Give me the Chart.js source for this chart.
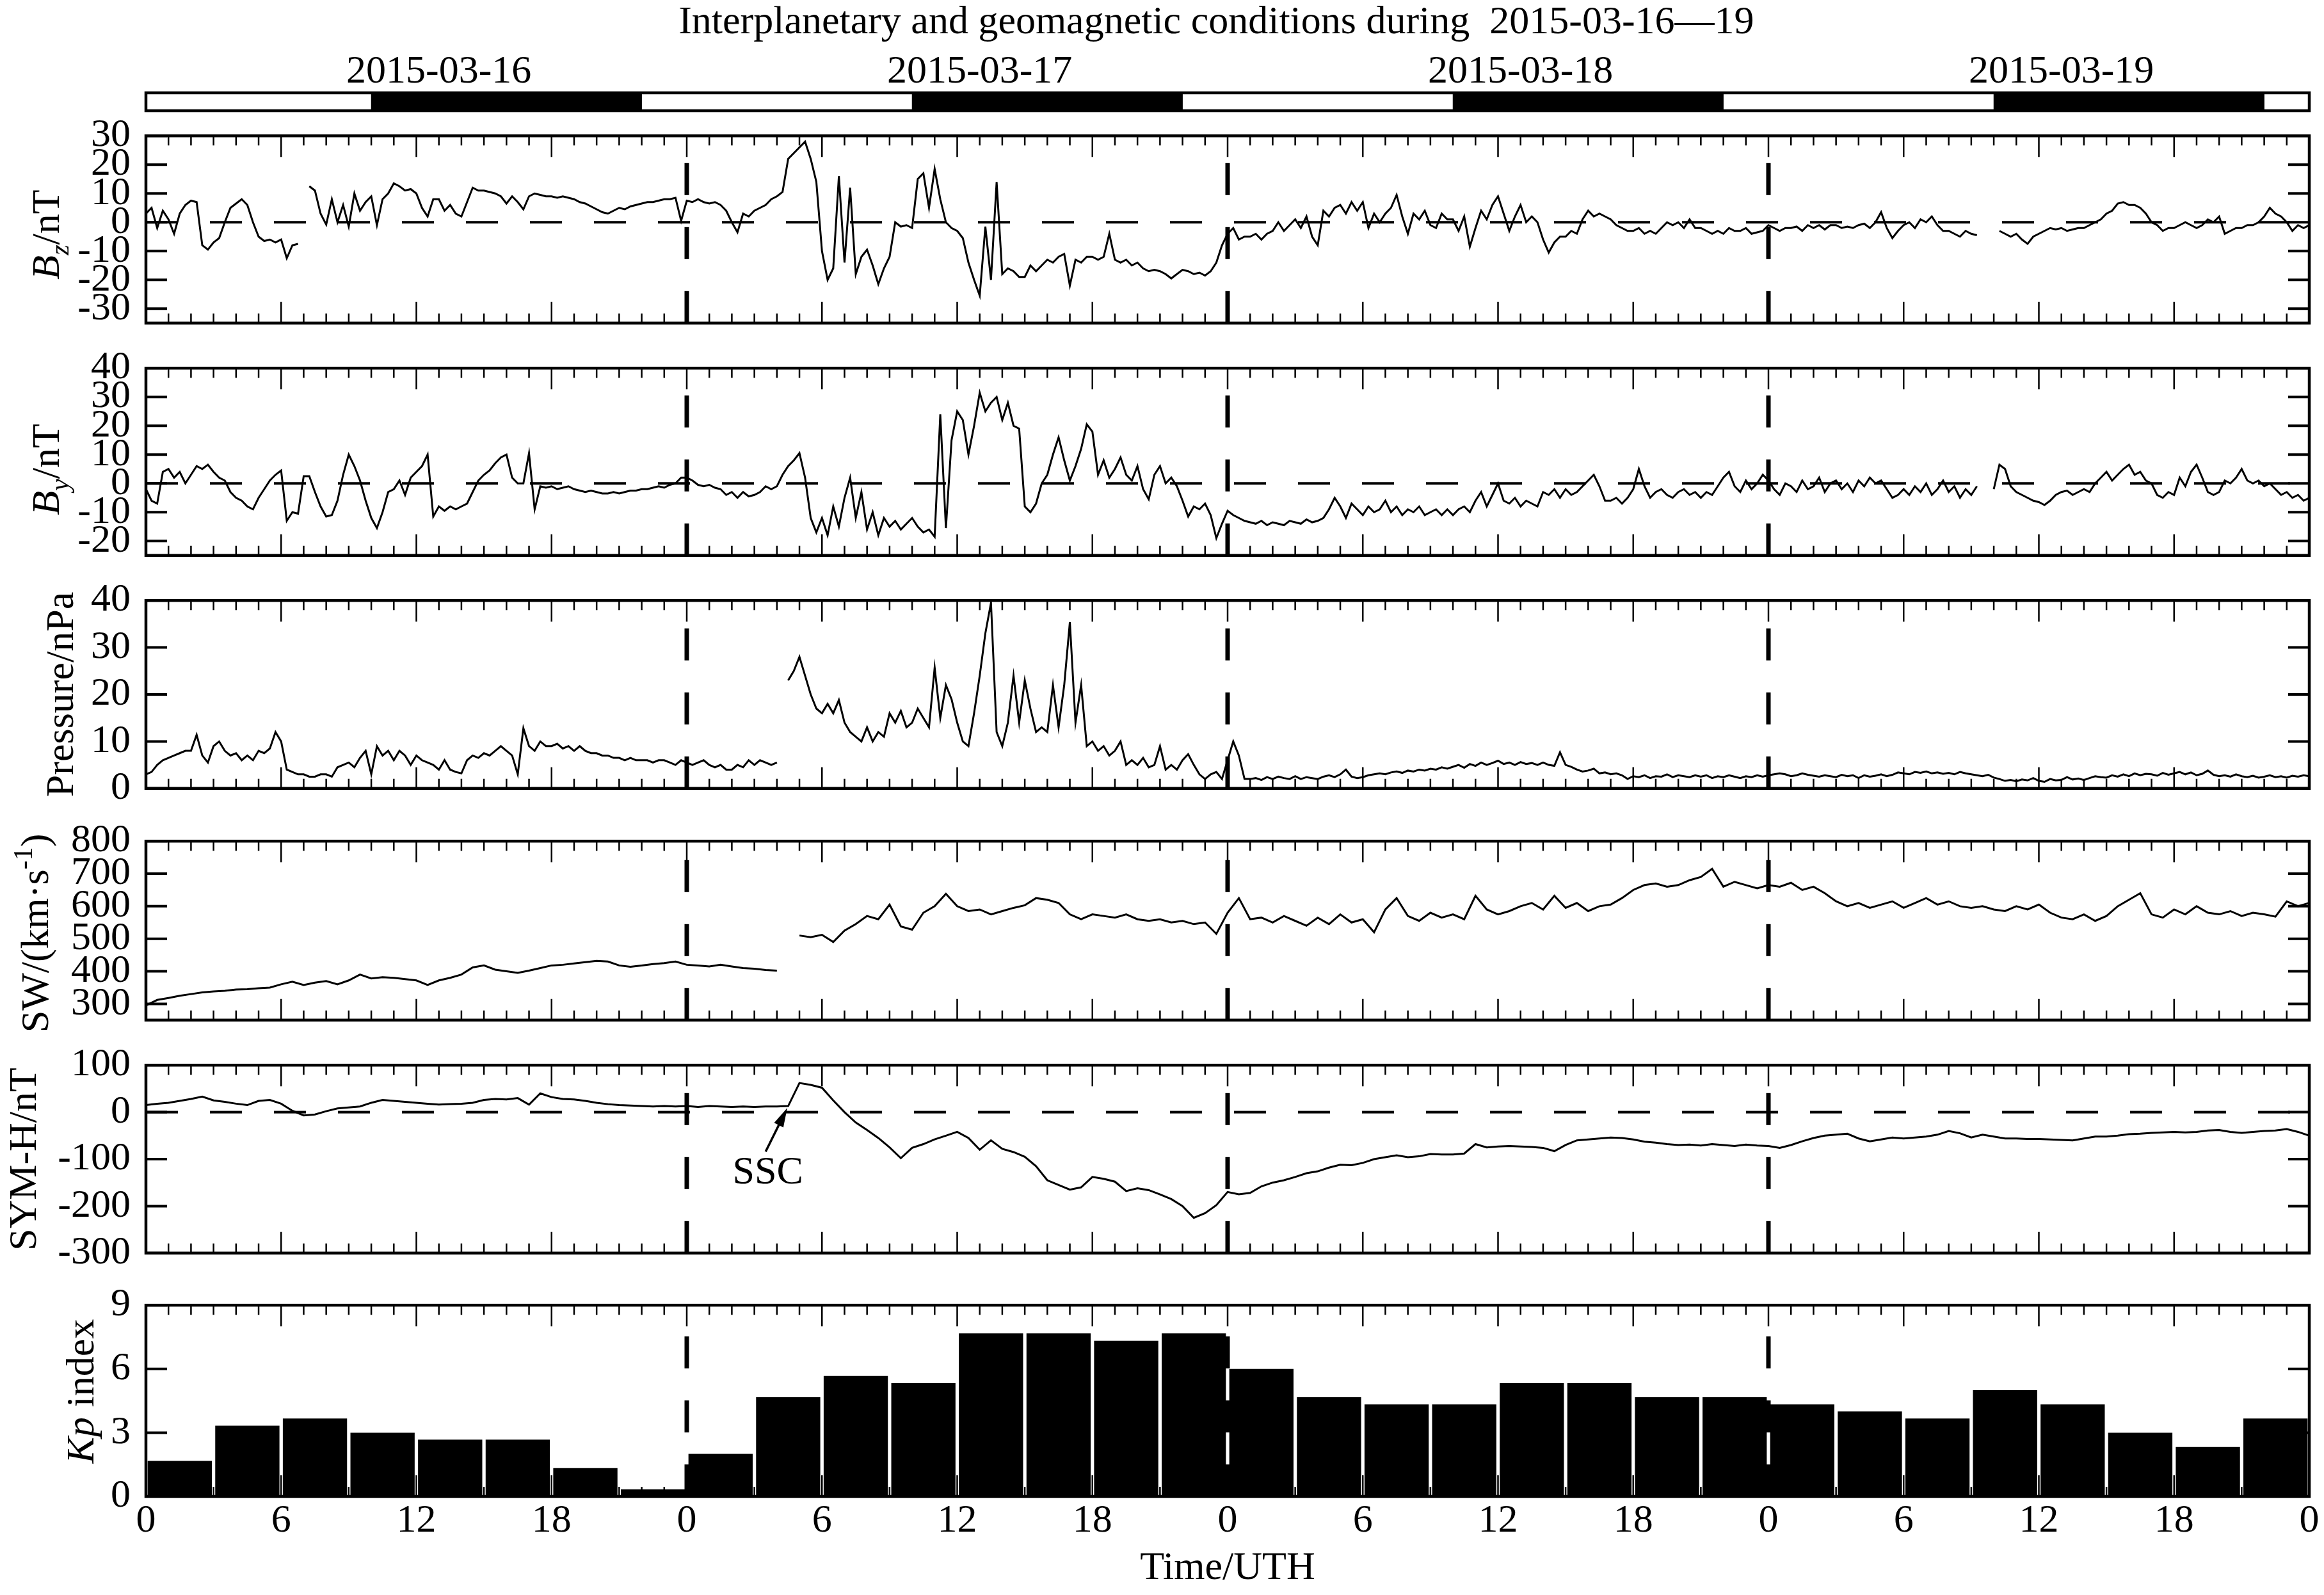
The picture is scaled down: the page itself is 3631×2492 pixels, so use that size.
<!DOCTYPE html>
<html>
<head>
<meta charset="utf-8">
<title>Interplanetary and geomagnetic conditions</title>
<script src="https://cdn.jsdelivr.net/npm/chart.js@4.4.1/dist/chart.umd.min.js"></script>
<style>
  body { margin: 0; background: #fff; }
  #wrap { position: relative; width: 3631px; height: 2492px; background: #fff; overflow: hidden; }
  #wrap canvas { position: absolute; left: 0; }
</style>
</head>
<body>
<div id="wrap"></div>
<script>
// ---- data (hours from 2015-03-16 00 UT) ----
const titleText = 'Interplanetary and geomagnetic conditions during  2015-03-16\u201419';
const dayLabels = ['2015-03-16', '2015-03-17', '2015-03-18', '2015-03-19'];
const dayLabelHours = [13, 37, 61, 85];
const nightStart = [10, 34, 58, 82];
const nightEnd = [22, 46, 70, 94];
const dayLines = [24, 48, 72];

const bzTicks = [30, 20, 10, 0, -10, -20, -30];
const byTicks = [40, 30, 20, 10, 0, -10, -20];
const pTicks = [0, 10, 20, 30, 40];
const swTicks = [300, 400, 500, 600, 700, 800];
const symTicks = [100, 0, -100, -200, -300];
const kpTicks = [0, 3, 6, 9];

// IMF Bz, nT, every 0.25 h
const bz = [
  3, 5, -2, 4, 1, -4, 3, 6, 7.5, 7, -8, -9.5,
  -7, -5.5, 0, 5, 6.5, 8, 6, 0, -5, -6.5, -6, -7,
  -6, -12.5, -8, -7.5, null, 12.5, 11, 3, -0.8, 8, 0, 6,
  -1.5, 10, 4, 7, 9, -1, 8, 10, 13.5, 12.5, 11, 11.5,
  10, 5, 2, 8, 8, 4, 6, 3, 2, 7, 12, 11,
  11, 10.5, 10, 9, 6.5, 9, 7, 4.5, 9, 10, 9.5, 9,
  9, 8.5, 9, 8.5, 8, 7, 6.5, 5.5, 4.5, 3.5, 3, 4,
  5, 4.5, 5.5, 6, 6.5, 7, 7, 7.5, 8, 8, 8.5, 0.5,
  7.5, 7, 8, 7, 6.5, 7, 6, 4, 0, -3.5, 3, 2,
  4, 5, 6, 8, 9, 10.5, 22, 24, 26, 28, 22, 14,
  -10, -20, -16, 16, -14, 12, -18, -12, -9.5, -15, -21.5, -16,
  -12, 0, -1.5, -1, -2, 15, 17, 5, 18.5, 8, 0, -2,
  -3, -5.5, -14, -20, -25.5, -1.5, -20, 14, -18, -16, -17, -19,
  -19, -15, -17, -15, -13, -14, -12, -11, -22, -13, -14, -12,
  -12, -13, -12, -4, -13, -14, -13, -15, -14, -16, -17, -16.5,
  -17, -18, -19.5, -18, -16.5, -17, -18, -17.5, -18.5, -17, -14, -8,
  -4, -2, -6, -5, -5, -4, -6, -4, -3, 0, -3, -1,
  1, -2, 2, -5, -8, 4, 2, 5, 6, 3, 7, 4,
  7, -2, 3, 0, 3, 5, 9.5, 2, -4, 3, 1, 4,
  -1, -2, 3, 1, 1, -3, 2, -8.5, -2, 4, 1, 6,
  9, 3, -3, 2, 6, 0, 2, 0, -6, -10.5, -7, -5,
  -5, -3, -4, 1, 4, 2, 3, 2, 1, -1, -2, -3,
  -3, -2, -4, -3, -4, -2, 0, -1, 0, -2, 1, -2,
  -2, -3, -4, -3, -4, -2, -3, -3, -2, -4, -3.5, -3,
  -1, -2, -3, -2, -2, -1.5, -3, -1, -2, -1, -2.5, -1,
  -1, -2, -1.5, -2, -1, -0.5, -2, 0, 3.5, -2, -5.5, -3,
  -1, 0, -2, 1, 0, 2, -1, -3, -3, -4, -5, -3,
  -4, -4.5, null, null, null, -3, -4, -5, -4, -6, -7.5, -5,
  -4, -3, -2, -2.5, -2, -3, -2.5, -2, -2, -1, 0, 1,
  3, 4, 6.5, 7, 6, 6, 5, 3, 0, -1, -3, -2,
  -2, -1, 0, -1, -2, -1, 1, 0, 2, -4, -3, -2,
  -2, -1, -1, 0, 2, 5, 3, 2, 0, -3, -1, -2,
  -1
];

// IMF By, nT, every 0.25 h
const by = [
  -2, -6, -7, 4, 5, 2, 4, 0, 3, 6, 5, 6.5,
  4, 2, 1, -3, -5, -6, -8, -9, -5, -2, 1, 3,
  4.5, -13, -10, -10.5, 2.5, 2.5, -3, -8, -11.5, -11, -6, 3,
  10, 6, 1, -6, -12, -15.5, -10, -3, -2, 1, -4, 2,
  4, 6, 10, -11.5, -8, -9.5, -8, -9, -8, -7, -3, 1,
  3, 4.5, 7, 9, 10, 2, 0, 0, 10.5, -9, -1, -1.5,
  -1, -2, -1.5, -1, -2, -2.5, -3, -2.5, -3, -3.5, -3.5, -3,
  -3.5, -3, -2.5, -2.5, -2, -2, -1.5, -1, -1.5, -0.5, 0, 2,
  2, 1, -0.5, -1, -0.5, -1.5, -2, -4, -3, -5, -3, -4.5,
  -4, -3, -1, -2, -1, 3, 6, 8, 10.5, 2, -12, -17,
  -12, -18, -8, -15, -5, 2, -12, -3, -16, -10, -18, -12,
  -15, -13, -16, -14, -12, -15, -17, -16, -18.5, 24, -15.5, 15,
  25, 22, 10, 20, 31.5, 25, 28, 30, 22, 28, 20, 19,
  -8, -10, -7, 0, 3, 10, 16, 8, 1, 6, 12, 20.5,
  18, 3, 8, 2, 5, 9, 3, 1, 6, -2, -5.5, 3,
  6, 0, 2, -1, -6, -11.5, -8, -9, -7, -11, -19, -14,
  -9.5, -11, -12, -13, -13.5, -14, -13, -14.5, -13.5, -14, -14.5, -13,
  -13.5, -14, -12.5, -13.5, -13, -12, -9, -5, -8, -12, -7, -9,
  -11, -8, -10, -9, -6, -10, -8, -11, -9, -10, -8, -11,
  -10, -9, -11, -9, -11, -9, -8, -10, -6, -3, -8, -4,
  0, -6, -7, -5, -8, -6, -7, -8, -3, -4, -2, -5,
  -2, -4, -3, -1, 1, 3, -1, -6, -6, -5, -7, -5,
  -2, 5, -1, -5, -3, -2, -4, -5, -3, -2, -4, -3,
  -5, -3, -4, -1, 2, 4, -1, -3, 1, -2, 0, 3,
  1, -2, -4, 0, -1, -3, 1, -2, -1, 2, -3, 0,
  1, -2, 0, -3, 1, -1, 2, 0, 1, -2, -5, -4,
  -2, -4, -1, -3, 0, -4, -2, 1, -3, -1, -5, -2,
  -4, -1, null, null, -2, 6.5, 5, -1, -3, -4, -5, -6,
  -6.5, -7.5, -6, -4, -3, -2.5, -4, -3, -2, -3, 0, 2,
  4, 1, 3, 5, 6.5, 3, 4, 1, 0, -4, -5, -3,
  -4, 2, -1, 4, 6.5, 2, -3, -4, -3, 1, 0, 2,
  5, 1, 0, 1, -1, 0, -2, -4, -3, -5, -4, -6,
  -5
];

// solar wind dynamic pressure, nPa, every 0.25 h
const pdyn = [
  3, 3.5, 5, 6, 6.5, 7, 7.5, 8, 8, 11.4, 7, 5.5,
  9, 10, 8, 7, 7.5, 6, 7, 6, 8, 7.5, 8.5, 12,
  10, 4, 3.5, 3, 3, 2.5, 2.5, 3, 3, 2.5, 4.5, 5,
  5.5, 4.5, 6.5, 8, 3, 9, 7, 8, 6, 8, 7, 5,
  7, 6, 5.5, 5, 4, 6, 4, 3.5, 3.2, 6, 7, 6.5,
  7.5, 7, 8, 9, 8, 7, 3, 12.8, 9, 8, 10, 9,
  9, 9.5, 8.5, 9, 8, 9, 8, 7.5, 7.5, 7, 7, 6.5,
  6.5, 6, 6.5, 6, 6, 6, 5.5, 6, 6, 5.5, 5, 6,
  5.5, 5, 5.5, 6, 5, 4.5, 5, 4, 4, 5, 4.5, 6,
  5, 6, 5.5, 5, 5.5, null, 23, 25, 28, 24, 20, 17,
  16, 18, 16, 18.8, 14, 12, 11, 10, 13, 10, 12, 11,
  16, 14, 16.5, 13, 14, 17, 15, 13, 25.7, 15, 22, 19,
  14, 10, 9, 16, 24, 33, 39.5, 12, 9, 14, 24, 14,
  23, 17, 12, 13, 12, 22, 13, 22, 35.4, 14, 22, 9,
  10, 8, 9, 7, 8, 10, 5, 6, 5, 6.5, 4.5, 5,
  9, 4, 5, 4, 6, 7.3, 5, 3, 2, 3, 3.5, 2,
  6, 10, 7, 2, 2, 2.2, 1.8, 2.4, 2, 2.5, 2.2, 2,
  2.6, 2, 2.4, 2.2, 2, 2.5, 2.8, 2.4, 3, 4, 2.5, 2.2,
  2.4, 2.8, 3, 3.2, 3, 3.4, 3.6, 3.3, 3.8, 3.6, 4, 3.8,
  4.2, 4, 4.5, 4.2, 4.6, 5, 4.4, 5.2, 4.8, 5.5, 5, 5.4,
  5.9, 5.2, 5.5, 5, 5.6, 5.2, 5.4, 5, 5.5, 5, 4.8, 7.7,
  5, 4.6, 4, 3.6, 3.8, 4.2, 3.2, 3.4, 3, 3.2, 2.8, 2,
  2.6, 2.4, 2.8, 2.2, 2.6, 2.5, 3, 2.4, 2.8, 2.6, 2.4, 2.8,
  2.5, 2.8, 2.2, 2.6, 2.4, 2.8, 2.5, 2.2, 2.6, 2.4, 2.8, 2.5,
  2.8, 3, 3.2, 3, 2.6, 2.8, 3.2, 2.9, 2.7, 2.5, 2.8, 2.6,
  2.4, 2.9, 2.6, 2.8, 2.2, 2.8, 2.5, 2.7, 3, 2.6, 2.9, 3.4,
  3.2, 3, 3.5, 3.3, 3.6, 3.2, 3.4, 3.1, 3.3, 3, 3.5, 3.2,
  3, 2.8, 2.6, 2.9, 2.3, 2, 1.6, 1.8, 1.5, 1.9, 1.7, 2.2,
  1.6, 1.4, 2, 1.7, 1.8, 2.4, 1.9, 2.1, 1.8, 2.2, 2.6, 2.4,
  2.3, 2.8, 2.5, 3, 2.6, 3.2, 2.8, 3.1, 3, 2.7, 3.3, 2.9,
  3.2, 3.5, 3, 3.4, 2.8, 3.1, 3.8, 2.9, 2.6, 2.8, 2.5, 3,
  2.6, 2.4, 2.7, 2.3, 2.5, 2.8, 2.4, 2.6, 2.3, 2.7, 2.5, 2.8,
  2.6
];

// solar wind speed, km/s, every 0.5 h
const sw = [
  295, 312, 318, 325, 330, 335, 338, 340, 344, 345, 348, 350,
  360, 368, 358, 365, 370, 360, 372, 390, 378, 382, 380, 376,
  372, 358, 372, 380, 390, 412, 418, 405, 400, 395, 402, 410,
  418, 420, 424, 428, 432, 430, 418, 414, 418, 422, 425, 430,
  420, 418, 415, 420, 415, 410, 408, 404, 402, null, 510, 505,
  512, 490, 525, 545, 570, 560, 605, 538, 528, 580, 600, 638,
  600, 585, 590, 575, 585, 595, 603, 625, 620, 610, 575, 560,
  575, 570, 565, 575, 560, 555, 560, 550, 555, 545, 550, 515,
  580, 625, 560, 565, 550, 570, 555, 540, 565, 545, 575, 550,
  560, 520, 590, 625, 570, 555, 580, 565, 575, 560, 632, 590,
  575, 585, 600, 610, 590, 632, 595, 610, 585, 600, 605, 625,
  650, 665, 670, 660, 665, 680, 690, 715, 660, 675, 665, 655,
  665, 660, 672, 650, 660, 640, 615, 600, 610, 595, 605, 615,
  595, 610, 625, 605, 615, 600, 595, 600, 590, 585, 600, 590,
  605, 580, 565, 560, 575, 555, 570, 600, 620, 640, 575, 565,
  590, 575, 600, 580, 575, 585, 570, 580, 575, 568, 615, 600,
  610
];

// SYM-H, nT, every 0.5 h
const symh = [
  15, 18, 20, 24, 28, 33, 25, 22, 18, 15, 24, 26,
  18, 3, -7, -5, 2, 8, 10, 12, 20, 26, 24, 22,
  20, 18, 16, 17, 18, 20, 26, 28, 27, 30, 16, 40,
  32, 28, 27, 24, 20, 17, 15, 14, 13, 12, 13, 12,
  13, 11, 13, 12, 11, 12, 11, 12, 12, 13, 62, 58,
  52, 25, 0, -22, -38, -55, -75, -98, -76, -68, -58, -50,
  -42, -55, -80, -60, -78, -85, -95, -115, -145, -155, -165, -160,
  -138, -142, -148, -168, -162, -166, -175, -185, -200, -225, -215, -198,
  -170, -175, -172, -158, -150, -145, -138, -130, -126, -118, -112, -113,
  -108, -100, -96, -92, -96, -94, -89, -90, -90, -88, -68, -75,
  -73, -72, -73, -74, -76, -83, -70, -60, -58, -56, -54, -55,
  -58, -63, -65, -68, -70, -69, -71, -68, -70, -72, -69, -71,
  -72, -76, -70, -62, -55, -50, -48, -46, -56, -62, -58, -54,
  -56, -54, -52, -48, -40, -45, -54, -48, -52, -56, -56, -57,
  -57, -58, -59, -60, -56, -52, -52, -50, -47, -46, -44, -43,
  -42, -43, -42, -39, -38, -42, -44, -42, -40, -39, -36, -42,
  -50
];

// Kp, 3-hour intervals (bar centres in hours)
const kpTimes = [1.5, 4.5, 7.5, 10.5, 13.5, 16.5, 19.5, 22.5,
  25.5, 28.5, 31.5, 34.5, 37.5, 40.5, 43.5, 46.5,
  49.5, 52.5, 55.5, 58.5, 61.5, 64.5, 67.5, 70.5,
  73.5, 76.5, 79.5, 82.5, 85.5, 88.5, 91.5, 94.5];
const kp = [1.67, 3.33, 3.67, 3, 2.67, 2.67, 1.33, 0.33,
  2, 4.67, 5.67, 5.33, 7.67, 7.67, 7.33, 7.67,
  6, 4.67, 4.33, 4.33, 5.33, 5.33, 4.67, 4.67,
  4.33, 4, 3.67, 5, 4.33, 3, 2.33, 3.67];

// SSC marker (hour, SYM-H value)
const sscText = [27.6, -130];
const sscTail = [27.5, -84];
const sscHead = [28.46, 9];

// ---- drawing ----
const FONT = '"Liberation Serif", "Times New Roman", serif';
Chart.defaults.font.family = FONT;
Chart.defaults.color = '#000';

function addCanvas(top, height) {
  const c = document.createElement('canvas');
  c.width = 3631;
  c.height = height;
  c.style.top = top + 'px';
  document.getElementById('wrap').appendChild(c);
  return c;
}

// rotated axis title made of plain / italic / sub / sup pieces
function richTitle(ctx, segs, bx, cy, size) {
  ctx.save();
  ctx.translate(bx, cy);
  ctx.rotate(-Math.PI / 2);
  const parts = segs.map(s => {
    const sz = s.sub || s.sup ? size * 0.68 : size;
    const font = (s.i ? 'italic ' : '') + sz + 'px ' + FONT;
    ctx.font = font;
    return { t: s.t, font, w: ctx.measureText(s.t).width, dy: s.sub ? size * 0.24 : s.sup ? -size * 0.4 : 0 };
  });
  let x = -parts.reduce((a, p) => a + p.w, 0) / 2;
  ctx.fillStyle = '#000';
  ctx.textBaseline = 'alphabetic';
  parts.forEach(p => { ctx.font = p.font; ctx.fillText(p.t, x, p.dy); x += p.w; });
  ctx.restore();
}

function framePlugin(p) {
  return {
    id: 'frame',
    beforeDatasetsDraw(chart) {
      if (!p.zero) return;
      const { ctx, chartArea: a, scales: { y } } = chart;
      const py = y.getPixelForValue(0);
      ctx.save();
      ctx.strokeStyle = '#000';
      ctx.lineWidth = 4;
      ctx.setLineDash([50, 50]);
      ctx.beginPath(); ctx.moveTo(a.left, py); ctx.lineTo(a.right, py); ctx.stroke();
      ctx.restore();
    },
    afterDatasetsDraw(chart) {
      const { ctx, chartArea: a, scales: { x, y } } = chart;
      ctx.save();
      ctx.strokeStyle = '#000';
      ctx.fillStyle = '#000';
      // day boundaries
      ctx.lineWidth = 7;
      ctx.setLineDash([50, 50]);
      dayLines.forEach(d => {
        const px = x.getPixelForValue(d);
        ctx.beginPath(); ctx.moveTo(px, a.bottom); ctx.lineTo(px, a.top); ctx.stroke();
      });
      ctx.setLineDash([]);
      // hour ticks, inward, top and bottom
      ctx.lineWidth = 2.5;
      ctx.beginPath();
      for (let h = 1; h < 96; h++) {
        const px = x.getPixelForValue(h);
        const len = h % 6 === 0 ? 33 : 15;
        ctx.moveTo(px, a.top); ctx.lineTo(px, a.top + len);
        ctx.moveTo(px, a.bottom); ctx.lineTo(px, a.bottom - len);
      }
      ctx.stroke();
      // value ticks, inward, left and right
      ctx.lineWidth = 4;
      ctx.beginPath();
      p.ticks.forEach(v => {
        const py = y.getPixelForValue(v);
        ctx.moveTo(a.left, py); ctx.lineTo(a.left + 33, py);
        ctx.moveTo(a.right - 33, py); ctx.lineTo(a.right, py);
      });
      ctx.stroke();
      ctx.lineWidth = 4.5;
      ctx.strokeRect(a.left, a.top, a.right - a.left, a.bottom - a.top);
      richTitle(ctx, p.title, p.tx, (a.top + a.bottom) / 2 + p.tdy, 62);
      if (p.ssc) {
        ctx.font = '62px ' + FONT;
        ctx.textAlign = 'center';
        ctx.textBaseline = 'middle';
        ctx.fillText('SSC', x.getPixelForValue(sscText[0]), y.getPixelForValue(sscText[1]));
        const x0 = x.getPixelForValue(sscTail[0]), y0 = y.getPixelForValue(sscTail[1]);
        const x1 = x.getPixelForValue(sscHead[0]), y1 = y.getPixelForValue(sscHead[1]);
        const ang = Math.atan2(y1 - y0, x1 - x0);
        ctx.lineWidth = 3.5;
        ctx.beginPath(); ctx.moveTo(x0, y0); ctx.lineTo(x1 - 20 * Math.cos(ang), y1 - 20 * Math.sin(ang)); ctx.stroke();
        ctx.beginPath();
        ctx.moveTo(x1, y1);
        ctx.lineTo(x1 - 30 * Math.cos(ang) + 8 * Math.sin(ang), y1 - 30 * Math.sin(ang) - 8 * Math.cos(ang));
        ctx.lineTo(x1 - 30 * Math.cos(ang) - 8 * Math.sin(ang), y1 - 30 * Math.sin(ang) + 8 * Math.cos(ang));
        ctx.closePath();
        ctx.fill();
      }
      ctx.restore();
    }
  };
}

// header: title, date labels, day/night bar
const headerPlugin = {
  id: 'header',
  afterDatasetsDraw(chart) {
    const { ctx, chartArea: a, scales: { x } } = chart;
    ctx.save();
    ctx.strokeStyle = '#000';
    ctx.lineWidth = 4.5;
    ctx.strokeRect(a.left, a.top, a.right - a.left, a.bottom - a.top);
    ctx.fillStyle = '#000';
    ctx.textAlign = 'center';
    ctx.textBaseline = 'alphabetic';
    ctx.font = '62px ' + FONT;
    ctx.fillText(titleText, x.getPixelForValue(47.5), 52);
    dayLabels.forEach((t, i) => ctx.fillText(t, x.getPixelForValue(dayLabelHours[i]), 129));
    ctx.restore();
  }
};

new Chart(addCanvas(0, 180), {
  type: 'bar',
  data: {
    labels: [''],
    datasets: nightStart.map((s, i) => ({
      data: [[s, nightEnd[i]]], backgroundColor: '#000', grouped: false,
      barPercentage: 1, categoryPercentage: 1
    }))
  },
  options: {
    indexAxis: 'y', responsive: false, animation: false, events: [],
    layout: { padding: { top: 145, bottom: 7, left: 228, right: 23 } },
    plugins: { legend: { display: false }, tooltip: { enabled: false } },
    scales: { x: { type: 'linear', min: 0, max: 96, display: false }, y: { display: false } }
  },
  plugins: [headerPlugin]
});

const panels = [
  { top: 196, bottom: 521, min: -35, max: 30, ticks: bzTicks, zero: true, data: bz, step: 0.25,
    title: [{ t: 'B', i: 1 }, { t: 'z', i: 1, sub: 1 }, { t: '/nT' }], tx: 92, tdy: 8 },
  { top: 559, bottom: 884, min: -25, max: 40, ticks: byTicks, zero: true, data: by, step: 0.25,
    title: [{ t: 'B', i: 1 }, { t: 'y', i: 1, sub: 1 }, { t: '/nT' }], tx: 92, tdy: 12 },
  { top: 922, bottom: 1248, min: 0, max: 40, ticks: pTicks, data: pdyn, step: 0.25,
    title: [{ t: 'Pressure/nPa' }], tx: 114, tdy: 0 },
  { top: 1298, bottom: 1610, min: 250, max: 800, ticks: swTicks, data: sw, step: 0.5,
    title: [{ t: 'SW/(km\u00b7s' }, { t: '-1', sup: 1 }, { t: ')' }], tx: 75, tdy: 4 },
  { top: 1648, bottom: 1974, min: -300, max: 100, ticks: symTicks, zero: true, data: symh, step: 0.5, ssc: true,
    title: [{ t: 'SYM-H/nT' }], tx: 56, tdy: 0 },
  { top: 2023, bottom: 2338, min: 0, max: 9, ticks: kpTicks, kp: true,
    title: [{ t: 'Kp', i: 1 }, { t: ' index' }], tx: 146, tdy: -15 }
];

panels.forEach(p => {
  const last = !!p.kp;
  const ctop = p.top - 45;
  const height = last ? 2492 - ctop : p.bottom - p.top + 90;
  const dataset = last
    ? { type: 'bar', data: kpTimes.map((t, i) => ({ x: t, y: kp[i] })), backgroundColor: '#000',
        barPercentage: 0.95, categoryPercentage: 1 }
    : { type: 'line', data: p.data.map((v, i) => ({ x: i * p.step, y: v })), borderColor: '#000',
        borderWidth: 3, pointRadius: 0, tension: 0, spanGaps: false, fill: false };
  new Chart(addCanvas(ctop, height), {
    type: last ? 'bar' : 'line',
    data: { datasets: [dataset] },
    options: {
      responsive: false, animation: false, events: [],
      layout: { padding: { top: 45, bottom: last ? 0 : 45, left: 0, right: 23 } },
      plugins: { legend: { display: false }, tooltip: { enabled: false } },
      scales: {
        x: {
          type: 'linear', min: 0, max: 96, offset: false, display: last,
          grid: { display: false, drawTicks: false }, border: { display: false },
          ticks: { stepSize: 6, autoSkip: false, maxRotation: 0, padding: 2, font: { size: 62 },
                   callback: v => v % 24 },
          title: { display: last, text: 'Time/UTH', font: { size: 62 }, padding: { top: 0, bottom: 4 } },
          afterFit: s => { if (last) s.height = 154; }
        },
        y: {
          min: p.min, max: p.max,
          grid: { display: false, drawTicks: false }, border: { display: false },
          ticks: { padding: 24, autoSkip: false, font: { size: 62 } },
          afterBuildTicks: s => { s.ticks = p.ticks.map(v => ({ value: v })); },
          afterFit: s => { s.width = 228; }
        }
      }
    },
    plugins: [framePlugin(p)]
  });
});
</script>
</body>
</html>
